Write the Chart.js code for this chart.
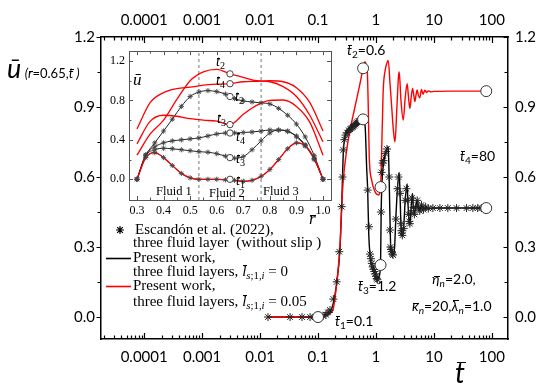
<!DOCTYPE html>
<html><head><meta charset="utf-8">
<script src="https://cdn.jsdelivr.net/npm/chart.js@4.4.1/dist/chart.umd.min.js"></script>
<style>
html,body{margin:0;padding:0;background:#fff;}
#wrap{position:relative;width:550px;height:391px;overflow:hidden;background:#fff;}
#main{position:absolute;left:0;top:0;}
#inset{position:absolute;left:100px;top:40px;}
.t{position:absolute;white-space:nowrap;line-height:1;color:#000;}
.sans{font-family:Lato,'Open Sans',sans-serif;}
.serif{font-family:'Liberation Serif','DejaVu Serif',serif;}
.i{font-style:italic;}
.ob{position:relative;display:inline-block;line-height:1;}
.ob::before{content:'';position:absolute;left:22%;right:-8%;top:var(--bt,0.1em);border-top:1px solid currentColor;}
sub{font-size:0.72em;vertical-align:-0.3em;line-height:0;}
</style></head>
<body>
<div id="wrap">
<canvas id="main" width="550" height="391"></canvas>
<canvas id="inset" width="240" height="190"></canvas>

<!-- y axis title -->
<div class="t sans" style="left:7px;top:54px;"><span class="i" style="font-size:27px">ū</span><span style="font-size:13px"> <span class="i">(</span><span class="ob i" style="--bt:0.28em">r</span>=0.65,<span class="ob i" style="--bt:0.13em">t</span><span class="i"> )</span></span></div>
<!-- x axis title -->
<div class="t sans" style="left:455px;top:358px;font-size:28px"><span class="ob i" style="--bt:0.14em">t</span></div>

<!-- main annotations -->
<div class="t sans" style="left:347px;top:43px;font-size:14px"><span class="ob i" style="--bt:0.13em">t</span><sub>2</sub>=0.6</div>
<div class="t sans" style="left:460px;top:149px;font-size:14px"><span class="ob i" style="--bt:0.13em">t</span><sub>4</sub>=80</div>
<div class="t sans" style="left:358px;top:279px;font-size:14px"><span class="ob i" style="--bt:0.13em">t</span><sub>3</sub>=1.2</div>
<div class="t sans" style="left:335px;top:314px;font-size:14px"><span class="ob i" style="--bt:0.13em">t</span><sub>1</sub>=0.1</div>
<div class="t sans" style="left:432px;top:272px;font-size:14px"><span class="ob i" style="--bt:0.28em">η</span><sub class="i">n</sub>=2.0,</div>
<div class="t sans" style="left:412px;top:299px;font-size:14px"><span class="ob i" style="--bt:0.28em">κ</span><sub class="i">n</sub>=20,<span class="ob i" style="--bt:0.08em">λ</span><sub class="i">n</sub>=1.0</div>

<!-- legend -->
<div class="t serif" style="left:135px;top:222px;font-size:15px">Escandón et al. (2022),</div>
<div class="t serif" style="left:133px;top:235px;font-size:15px">three fluid layer&nbsp; (without slip )</div>
<div class="t serif" style="left:133px;top:250px;font-size:15px">Present work,</div>
<div class="t serif" style="left:133px;top:264px;font-size:15px">three fluid layers, <span class="ob i" style="--bt:0.06em">l</span><sub class="i">s</sub><sub>;1,</sub><sub class="i">i</sub> = 0</div>
<div class="t serif" style="left:133px;top:278px;font-size:15px">Present work,</div>
<div class="t serif" style="left:133px;top:294px;font-size:15px">three fluid layers, <span class="ob i" style="--bt:0.06em">l</span><sub class="i">s</sub><sub>;1,</sub><sub class="i">i</sub> = 0.05</div>

<!-- inset labels -->
<div class="t serif i" style="left:133px;top:71px;font-size:17px">ū</div>
<div class="t serif" style="left:309px;top:210px;font-size:17px"><span class="ob i" style="--bt:0.28em">r</span></div>
<div class="t serif" style="left:156px;top:185px;font-size:12.5px">Fluid 1</div>
<div class="t serif" style="left:209px;top:187px;font-size:12.5px">Fluid 2</div>
<div class="t serif" style="left:263px;top:185px;font-size:12.5px">Fluid 3</div>
<div class="t serif" style="left:216px;top:55px;font-size:14px"><span class="ob i" style="--bt:0.18em">t</span><sub>2</sub></div>
<div class="t serif" style="left:216px;top:74px;font-size:14px"><span class="ob i" style="--bt:0.18em">t</span><sub>4</sub></div>
<div class="t serif" style="left:235px;top:90px;font-size:14px"><span class="ob i" style="--bt:0.18em">t</span><sub>2</sub></div>
<div class="t serif" style="left:217px;top:112px;font-size:14px"><span class="ob i" style="--bt:0.18em">t</span><sub>3</sub></div>
<div class="t serif" style="left:236px;top:130px;font-size:14px"><span class="ob i" style="--bt:0.18em">t</span><sub>4</sub></div>
<div class="t serif" style="left:236px;top:152px;font-size:14px"><span class="ob i" style="--bt:0.18em">t</span><sub>3</sub></div>
<div class="t serif" style="left:236px;top:174px;font-size:14px"><span class="ob i" style="--bt:0.18em">t</span><sub>1</sub></div>
</div>

<script>
// ---------- main chart data ----------
const xTickValues = [0.0001, 0.001, 0.01, 0.1, 1, 10, 100];
const xTickLabels = ['0.0001', '0.001', '0.01', '0.1', '1', '10', '100'];
const yTickValues = [0, 0.3, 0.6, 0.9, 1.2];
const yTickLabels = ['0.0', '0.3', '0.6', '0.9', '1.2'];
const xMin = 1.8e-5, xMax = 190, yMin = -0.094, yMax = 1.2;

// red: present work, slip 0.05
const tRed = [0.0137,0.03,0.06,0.1,0.13,0.16,0.184,0.21,0.239,0.256,0.273,0.313,0.356,0.434,0.53,0.6,0.646,0.69,0.71,0.737,0.766,0.843,0.95,1.1,1.2,1.28,1.336,1.45,1.55,1.63,1.75,1.87,2.0,2.13,2.3,2.45,2.52,2.7,2.96,3.2,3.46,3.65,3.85,4.05,4.29,4.5,4.7,4.9,5.15,5.4,5.7,6.1,6.5,7,7.5,8,9,10,20,80];
const uRed = [0,0,0,0,0.005,0.015,0.037,0.144,0.30,0.47,0.587,0.716,0.80,0.90,1.0,1.066,1.094,1.07,1.05,0.90,0.687,0.587,0.54,0.523,0.557,0.80,0.973,1.06,1.09,1.10,1.0,0.90,0.80,0.75,0.90,1.03,1.05,0.93,0.844,0.94,1.0,0.94,0.894,0.94,0.98,0.95,0.923,0.95,0.973,0.95,0.94,0.975,0.955,0.972,0.962,0.969,0.965,0.967,0.968,0.968];
// black: present work, no slip
const tBlack = [0.0137,0.05,0.1,0.13,0.16,0.184,0.21,0.239,0.256,0.273,0.29,0.31,0.35,0.4,0.45,0.5,0.55,0.6,0.64,0.66,0.69,0.72,0.75,0.79,0.843,0.95,1.05,1.13,1.2,1.23,1.27,1.4,1.53,1.63,1.68,1.74,1.8,1.9,2.0,2.1,2.2,2.35,2.52,2.6,2.7,2.85,3.0,3.2,3.46,3.55,3.7,3.85,4.0,4.29,4.4,4.6,4.85,5.15,5.4,5.7,6.1,6.6,7.2,8,10,20,80];
const uBlack = [0,0,0,0.005,0.02,0.06,0.144,0.29,0.473,0.70,0.77,0.795,0.81,0.822,0.832,0.84,0.846,0.847,0.835,0.79,0.644,0.544,0.36,0.266,0.216,0.185,0.16,0.175,0.223,0.45,0.573,0.68,0.716,0.73,0.62,0.444,0.30,0.275,0.266,0.30,0.42,0.55,0.62,0.53,0.40,0.35,0.38,0.50,0.57,0.50,0.42,0.40,0.45,0.53,0.48,0.44,0.47,0.50,0.47,0.455,0.48,0.46,0.472,0.465,0.467,0.467,0.467];
// Escandón et al. (2022) stars
const tStar = [0.0137,0.033,0.053,0.073,0.088,0.098,0.122,0.137,0.149,0.161,0.184,0.21,0.233,0.256,0.265,0.273,0.285,0.30,0.32,0.34,0.36,0.38,0.40,0.42,0.44,0.46,0.48,0.50,0.52,0.55,0.72,0.76,0.79,0.82,0.85,0.88,0.91,0.94,0.97,1.0,1.03,1.06,1.22,1.25,1.3,1.35,1.45,1.55,1.7,1.74,1.78,1.82,1.87,1.92,1.97,2.2,2.35,2.45,2.6,2.7,2.75,2.8,2.85,3.0,3.2,3.35,3.55,3.65,3.75,3.85,4.05,4.2,4.45,4.6,4.85,5.15,5.4,5.7,6.1,6.6,7.2,8,9.6,12.7,17.4,24.6,36.6,47,57,66,75];
const uStar = [0,0,0,0,0,0,0.005,0.01,0.02,0.03,0.077,0.151,0.28,0.473,0.6,0.716,0.76,0.78,0.79,0.80,0.805,0.81,0.815,0.82,0.825,0.83,0.835,0.84,0.84,0.845,0.544,0.387,0.27,0.25,0.23,0.215,0.205,0.195,0.185,0.175,0.165,0.16,0.45,0.62,0.66,0.67,0.70,0.72,0.6,0.373,0.30,0.29,0.28,0.27,0.266,0.42,0.55,0.6,0.53,0.40,0.37,0.36,0.35,0.38,0.5,0.55,0.5,0.44,0.41,0.40,0.45,0.51,0.47,0.44,0.47,0.50,0.47,0.455,0.48,0.46,0.472,0.465,0.467,0.467,0.467,0.467,0.467,0.467,0.467,0.467,0.467];
// marked instants t1..t4 (circles)
const tMarked = [0.1, 0.6, 0.6, 1.2, 1.2, 80, 80];
const uMarked = [0, 1.066, 0.847, 0.557, 0.223, 0.968, 0.467];

// ---------- inset data ----------
const rTickValues = [0.3,0.4,0.5,0.6,0.7,0.8,0.9,1.0];
const rTickLabels = ['0.3','0.4','0.5','0.6','0.7','0.8','0.9','1.0'];
const uInTickValues = [0, 0.4, 0.8, 1.2];
const uInTickLabels = ['0.0','0.4','0.8','1.2'];
const rMin = 0.27, rMax = 1.03, uInMin = -0.21, uInMax = 1.3;
const rPartitions = [0.533, 0.767];

const rBlack = [0.3,0.333,0.367,0.4,0.433,0.467,0.5,0.533,0.567,0.6,0.633,0.667,0.7,0.733,0.767,0.8,0.833,0.867,0.9,0.933,0.967,1.0];
const uBlackT1 = [0,0.22,0.27,0.22,0.14,0.06,0.015,0,0,0,-0.005,-0.01,-0.02,-0.01,0.03,0.1,0.2,0.31,0.37,0.34,0.21,0];
const uBlackT2 = [0,0.24,0.37,0.49,0.61,0.74,0.84,0.885,0.9,0.89,0.865,0.82,0.795,0.785,0.775,0.765,0.72,0.65,0.56,0.43,0.24,0];
const uBlackT3 = [0,0.24,0.30,0.315,0.31,0.30,0.29,0.28,0.275,0.26,0.235,0.215,0.23,0.30,0.39,0.47,0.50,0.49,0.43,0.34,0.2,0];
const uBlackT4 = [0,0.25,0.33,0.37,0.39,0.40,0.41,0.42,0.44,0.46,0.47,0.47,0.475,0.48,0.49,0.50,0.50,0.485,0.44,0.35,0.21,0];
const uRedT1 = [0,0.22,0.27,0.22,0.14,0.06,0.015,0,0,0,-0.005,-0.01,-0.02,-0.01,0.03,0.1,0.2,0.31,0.37,0.34,0.21,0];
const rRed = [0.3,0.35,0.4,0.45,0.5,0.55,0.6,0.65,0.7,0.75,0.8,0.85,0.9,0.95,1.0];
const uRedT2 = [0.245,0.46,0.60,0.81,1.0,1.09,1.115,1.07,1.035,1.0,0.99,0.94,0.84,0.65,0.38];
const uRedT3 = [0.36,0.59,0.65,0.64,0.615,0.60,0.59,0.555,0.66,0.75,0.80,0.805,0.74,0.58,0.245];
const uRedT4 = [0.51,0.78,0.88,0.92,0.935,0.955,0.965,0.97,0.99,0.995,1.0,0.99,0.93,0.78,0.49];
const rMarked = [0.65,0.65,0.65,0.65,0.65,0.65,0.65];
const uInMarked = [1.07,0.97,0.84,0.555,0.47,0.22,0];

const P = (xs, ys) => xs.map((x, i) => ({x, y: ys[i]}));

// ---------- main chart ----------
const mainTicks = {
  id: 'mainTicks',
  afterDraw(c) {
    const ctx = c.ctx, a = c.chartArea, sx = c.scales.x, sy = c.scales.y;
    ctx.save();
    ctx.strokeStyle = '#000'; ctx.lineWidth = 1.2;
    for (let d = -5; d <= 2; d++) for (let m = 1; m <= 9; m++) {
      const v = m * Math.pow(10, d);
      if (v < sx.min || v > sx.max) continue;
      const px = Math.round(sx.getPixelForValue(v)) + 0.5;
      const L = m === 1 ? 6 : 3.5;
      ctx.beginPath();
      ctx.moveTo(px, a.bottom); ctx.lineTo(px, a.bottom - L);
      ctx.moveTo(px, a.top); ctx.lineTo(px, a.top + L);
      ctx.stroke();
    }
    for (let k = 0; k < yTickValues.length; k++) {
      const vals = [yTickValues[k]];
      if (k < yTickValues.length - 1) vals.push((yTickValues[k] + yTickValues[k + 1]) / 2);
      vals.forEach((v, j) => {
        const py = Math.round(sy.getPixelForValue(v)) + 0.5;
        const L = j === 0 ? 4.5 : 3.5;
        ctx.beginPath();
        ctx.moveTo(a.left, py); ctx.lineTo(a.left - L, py);
        ctx.moveTo(a.right, py); ctx.lineTo(a.right - L, py);
        ctx.stroke();
      });
    }
    // legend symbols
    Chart.helpers.drawPoint(ctx, {pointStyle: 'star', radius: 4, borderWidth: 1}, 120, 230);
    ctx.lineWidth = 1.6;
    ctx.strokeStyle = '#000';
    ctx.beginPath(); ctx.moveTo(106, 258.5); ctx.lineTo(131, 258.5); ctx.stroke();
    ctx.strokeStyle = '#ff0000';
    ctx.beginPath(); ctx.moveTo(106, 286.5); ctx.lineTo(131, 286.5); ctx.stroke();
    ctx.restore();
  }
};

const axisFont = {family: 'Lato', size: 15};
new Chart(document.getElementById('main'), {
  type: 'scatter',
  data: {datasets: [
    {data: P(tBlack, uBlack), showLine: true, borderColor: '#000', borderWidth: 1.4, pointRadius: 0, cubicInterpolationMode: 'monotone', order: 4},
    {data: P(tRed, uRed), showLine: true, borderColor: '#ff0000', borderWidth: 1.4, pointRadius: 0, cubicInterpolationMode: 'monotone', order: 3},
    {data: P(tStar, uStar), showLine: false, pointStyle: 'star', pointRadius: 4, borderColor: '#222', borderWidth: 1, order: 2},
    {data: P(tMarked, uMarked), showLine: false, pointStyle: 'circle', pointRadius: 5.5, backgroundColor: '#fff', borderColor: '#333', borderWidth: 1, order: 1}
  ]},
  options: {
    responsive: false, animation: false, events: [],
    layout: {padding: 0},
    plugins: {legend: {display: false}, tooltip: {enabled: false}},
    scales: {
      x: {type: 'logarithmic', position: 'bottom', min: xMin, max: xMax,
        grid: {display: false, drawTicks: false}, border: {display: true, color: '#000', width: 1.5},
        ticks: {autoSkip: false, maxRotation: 0, padding: 9, color: '#000', font: axisFont, callback: (v, i) => xTickLabels[i]},
        afterBuildTicks: s => { s.ticks = xTickValues.map(v => ({value: v})); },
        afterFit: s => { s.height = 52; }},
      x2: {type: 'logarithmic', position: 'top', min: xMin, max: xMax, display: true,
        grid: {display: false, drawTicks: false}, border: {display: true, color: '#000', width: 1.5},
        ticks: {autoSkip: false, maxRotation: 0, padding: 8, color: '#000', font: axisFont, callback: (v, i) => xTickLabels[i]},
        afterBuildTicks: s => { s.ticks = xTickValues.map(v => ({value: v})); },
        afterFit: s => { s.height = 37; }},
      y: {type: 'linear', position: 'left', min: yMin, max: yMax,
        grid: {display: false, drawTicks: false}, border: {display: true, color: '#000', width: 1.5},
        ticks: {padding: 6, color: '#000', font: axisFont, callback: (v, i) => yTickLabels[i]},
        afterBuildTicks: s => { s.ticks = yTickValues.map(v => ({value: v})); },
        afterFit: s => { s.width = 101; }},
      y2: {type: 'linear', position: 'right', min: yMin, max: yMax, display: true,
        grid: {display: false, drawTicks: false}, border: {display: true, color: '#000', width: 1.5},
        ticks: {padding: 7, color: '#000', font: axisFont, callback: (v, i) => yTickLabels[i]},
        afterBuildTicks: s => { s.ticks = yTickValues.map(v => ({value: v})); },
        afterFit: s => { s.width = 42; }}
    }
  },
  plugins: [mainTicks]
});

// ---------- inset chart ----------
const insetFrame = {
  id: 'insetFrame',
  afterDraw(c) {
    const ctx = c.ctx, a = c.chartArea, sx = c.scales.x, sy = c.scales.y;
    ctx.save();
    ctx.strokeStyle = '#555'; ctx.lineWidth = 1;
    ctx.strokeRect(Math.round(a.left) + 0.5, Math.round(a.top) + 0.5, Math.round(a.right - a.left), Math.round(a.bottom - a.top));
    for (let k = 0; k < rTickValues.length; k++) {
      const vals = [rTickValues[k]];
      if (k < rTickValues.length - 1) vals.push((rTickValues[k] + rTickValues[k + 1]) / 2);
      vals.forEach((v, j) => {
        const px = Math.round(sx.getPixelForValue(v)) + 0.5, L = j === 0 ? 4 : 2.5;
        ctx.beginPath();
        ctx.moveTo(px, a.bottom); ctx.lineTo(px, a.bottom - L);
        ctx.moveTo(px, a.top); ctx.lineTo(px, a.top + L);
        ctx.stroke();
      });
    }
    for (let k = 0; k < uInTickValues.length; k++) {
      const vals = [uInTickValues[k]];
      if (k < uInTickValues.length - 1) vals.push((uInTickValues[k] + uInTickValues[k + 1]) / 2);
      vals.forEach((v, j) => {
        const py = Math.round(sy.getPixelForValue(v)) + 0.5, L = j === 0 ? 4 : 2.5;
        ctx.beginPath();
        ctx.moveTo(a.left, py); ctx.lineTo(a.left + L, py);
        ctx.moveTo(a.right, py); ctx.lineTo(a.right - L, py);
        ctx.stroke();
      });
    }
    ctx.restore();
  }
};

const blackLine = d => ({data: d, showLine: true, borderColor: '#222', borderWidth: 1, pointRadius: 0, cubicInterpolationMode: 'monotone', order: 6});
const redLine = d => ({data: d, showLine: true, borderColor: '#ff0000', borderWidth: 1.3, pointRadius: 0, cubicInterpolationMode: 'monotone', order: 5});
const starPts = d => ({data: d, showLine: false, pointStyle: 'star', pointRadius: 2.6, borderColor: '#444', borderWidth: 0.9, order: 2});
const partLine = r => ({data: [{x: r, y: uInMin}, {x: r, y: uInMax}], showLine: true, borderColor: '#777', borderWidth: 1, borderDash: [3, 3], pointRadius: 0, order: 8});
const inFont = {family: 'Liberation Serif', size: 12};

new Chart(document.getElementById('inset'), {
  type: 'scatter',
  data: {datasets: [
    ...rPartitions.map(partLine),
    blackLine(P(rBlack, uBlackT1)), blackLine(P(rBlack, uBlackT2)), blackLine(P(rBlack, uBlackT3)), blackLine(P(rBlack, uBlackT4)),
    redLine(P(rBlack, uRedT1)), redLine(P(rRed, uRedT2)), redLine(P(rRed, uRedT3)), redLine(P(rRed, uRedT4)),
    starPts(P(rBlack, uBlackT1)), starPts(P(rBlack, uBlackT2)), starPts(P(rBlack, uBlackT3)), starPts(P(rBlack, uBlackT4)),
    {data: P(rMarked, uInMarked), showLine: false, pointStyle: 'circle', pointRadius: 3.2, backgroundColor: '#fff', borderColor: '#444', borderWidth: 1, order: 1}
  ]},
  options: {
    responsive: false, animation: false, events: [],
    layout: {padding: {top: 8, right: 9, left: 0, bottom: 0}},
    plugins: {legend: {display: false}, tooltip: {enabled: false}},
    scales: {
      x: {type: 'linear', position: 'bottom', min: rMin, max: rMax,
        grid: {display: false, drawTicks: false}, border: {display: false},
        ticks: {autoSkip: false, maxRotation: 0, padding: 4, color: '#000', font: inFont, callback: (v, i) => rTickLabels[i]},
        afterBuildTicks: s => { s.ticks = rTickValues.map(v => ({value: v})); },
        afterFit: s => { s.height = 30; }},
      y: {type: 'linear', position: 'left', min: uInMin, max: uInMax,
        grid: {display: false, drawTicks: false}, border: {display: false},
        ticks: {padding: 4, color: '#000', font: inFont, callback: (v, i) => uInTickLabels[i]},
        afterBuildTicks: s => { s.ticks = uInTickValues.map(v => ({value: v})); },
        afterFit: s => { s.width = 29; }}
    }
  },
  plugins: [insetFrame]
});
</script>
</body></html>
